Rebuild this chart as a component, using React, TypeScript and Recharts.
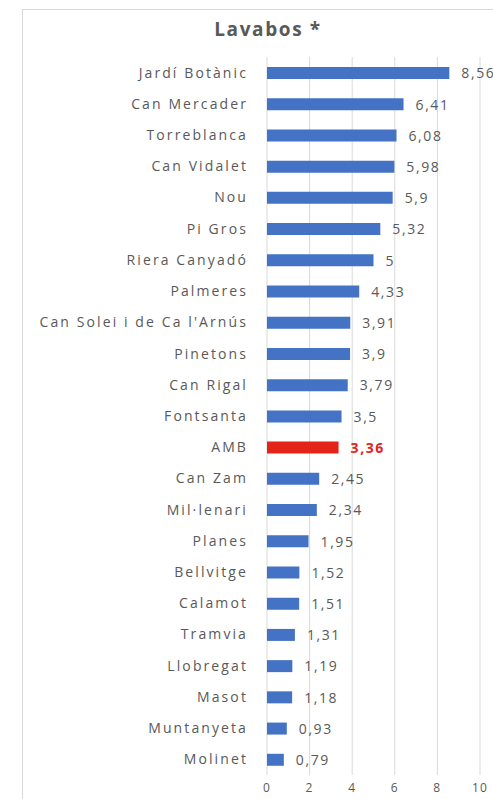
import { Bar, BarChart, CartesianGrid, Cell, LabelList, XAxis, YAxis } from "recharts";

const categories = [
  "Jardí Botànic",
  "Can Mercader",
  "Torreblanca",
  "Can Vidalet",
  "Nou",
  "Pi Gros",
  "Riera Canyadó",
  "Palmeres",
  "Can Solei i de Ca l'Arnús",
  "Pinetons",
  "Can Rigal",
  "Fontsanta",
  "AMB",
  "Can Zam",
  "Mil·lenari",
  "Planes",
  "Bellvitge",
  "Calamot",
  "Tramvia",
  "Llobregat",
  "Masot",
  "Muntanyeta",
  "Molinet",
];
const values = [
  8.56, 6.41, 6.08, 5.98, 5.9, 5.32, 5, 4.33, 3.91, 3.9, 3.79, 3.5, 3.36, 2.45, 2.34,
  1.95, 1.52, 1.51, 1.31, 1.19, 1.18, 0.93, 0.79,
];
const xTicks = [0, 2, 4, 6, 8, 10];
const highlight = "AMB";

const BLUE = "#4472C4";
const RED = "#E3241B";
const TEXT = "#595959";
const FONT = "'Open Sans', 'Noto Sans', sans-serif";

const data = categories.map((name, i) => ({ name, value: values[i] }));

const fmt = (v: number) => String(v).replace(".", ",");

function ValueLabel(props: any) {
  const { x, y, width, height, value, index } = props;
  const hot = categories[index] === highlight;
  return (
    <text
      x={x + width + 12}
      y={y + height / 2}
      dy="0.38em"
      fill={hot ? RED : TEXT}
      fontWeight={hot ? 700 : 400}
      fontSize={14}
      fontFamily={FONT}
      letterSpacing={1.6}
    >
      {fmt(value)}
    </text>
  );
}

export default function App() {
  return (
    <div
      style={{
        position: "absolute",
        left: 0,
        top: 0,
        width: 493,
        height: 799,
        overflow: "hidden",
        background: "#fff",
      }}
    >
      <div
        style={{
          position: "absolute",
          left: 22,
          top: 9,
          width: 600,
          height: 900,
          border: "1px solid #d9d9d9",
        }}
      />
      <div
        style={{
          position: "absolute",
          left: 0,
          top: 16,
          width: 536,
          textAlign: "center",
          fontFamily: FONT,
          fontWeight: 700,
          fontSize: 19,
          color: TEXT,
          letterSpacing: 1.6,
        }}
      >
        Lavabos *
      </div>
      <div style={{ position: "absolute", left: 0, top: 0 }}>
        <BarChart
          width={520}
          height={799}
          data={data}
          layout="vertical"
          margin={{ top: 57, right: 40, bottom: 0, left: 22 }}
        >
          <CartesianGrid horizontal={false} stroke="#d9d9d9" />
          <XAxis
            type="number"
            domain={[0, 10]}
            ticks={xTicks}
            height={24}
            axisLine={false}
            tickLine={false}
            tickSize={0}
            tickMargin={8}
            tick={{ fill: TEXT, fontSize: 12, fontFamily: FONT, letterSpacing: 1.2 }}
          />
          <YAxis
            type="category"
            dataKey="name"
            width={245}
            axisLine={false}
            tickLine={false}
            tickSize={0}
            tickMargin={19}
            interval={0}
            tick={{ fill: TEXT, fontSize: 14, fontFamily: FONT, letterSpacing: 2.1 }}
          />
          <Bar dataKey="value" barSize={12} isAnimationActive={false}>
            {data.map((d) => (
              <Cell key={d.name} fill={d.name === highlight ? RED : BLUE} />
            ))}
            <LabelList dataKey="value" content={<ValueLabel />} />
          </Bar>
        </BarChart>
      </div>
    </div>
  );
}
